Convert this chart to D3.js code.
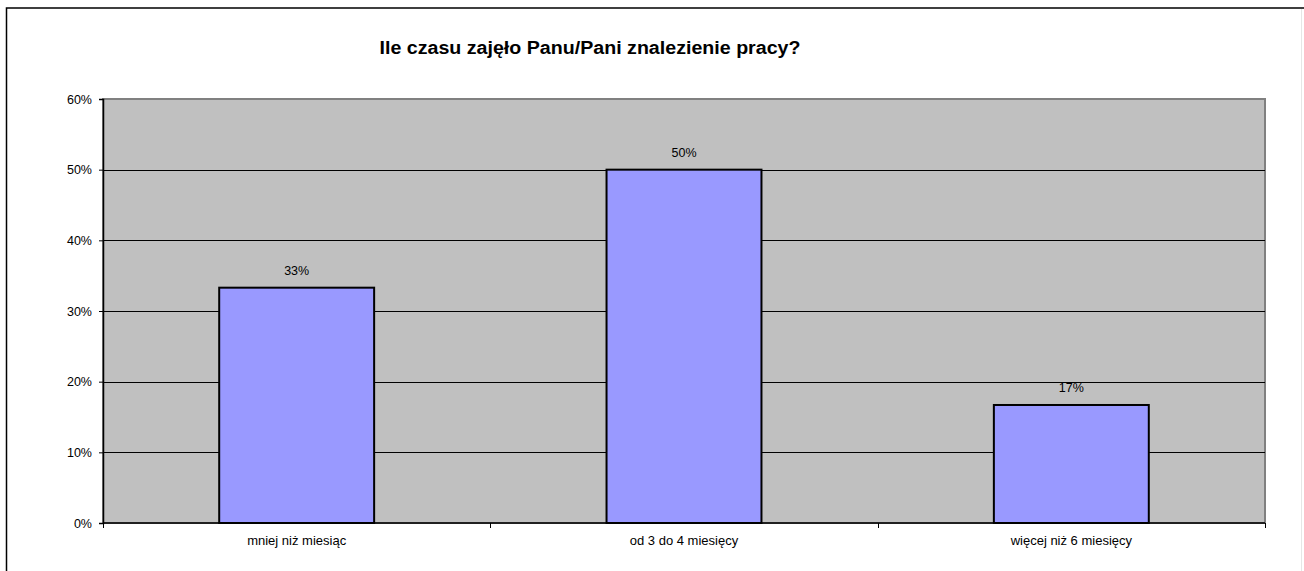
<!DOCTYPE html>
<html><head><meta charset="utf-8">
<script src="https://cdn.jsdelivr.net/npm/d3@7"></script>
<style>body{margin:0;background:#fff}svg{display:block}text{font-family:"Liberation Sans",Arial,sans-serif}</style>
</head><body>
<svg id="c" width="1304" height="571"></svg>
<script>
const title = "Ile czasu zajęło Panu/Pani znalezienie pracy?";
const categories = ["mniej niż miesiąc", "od 3 do 4 miesięcy", "więcej niż 6 miesięcy"];
const values = [0.333, 0.50, 0.167];
const yTicks = [0, 0.1, 0.2, 0.3, 0.4, 0.5, 0.6];

const svg = d3.select("#c");
const W = 1304, H = 571;
const m = {left: 103, top: 99, right: 1265, bottom: 523};

// outer frame
svg.append("rect").attr("x", 6.5).attr("y", 8).attr("width", W + 10).attr("height", H + 10)
  .attr("fill", "#fff").attr("stroke", "#000").attr("stroke-width", 1.5);
svg.append("line").attr("x1", 1301.5).attr("x2", 1301.5).attr("y1", 9).attr("y2", H)
  .attr("stroke", "#e6e6e6").attr("stroke-width", 1);

const x = d3.scaleBand().domain(categories).range([m.left, m.right]).paddingInner(0.6).paddingOuter(0.3);
const y = d3.scaleLinear().domain([0, 0.6]).range([m.bottom, m.top]);

// plot area
svg.append("rect").attr("x", m.left).attr("y", m.top).attr("width", m.right - m.left).attr("height", m.bottom - m.top)
  .attr("fill", "#c0c0c0").attr("stroke", "#808080").attr("stroke-width", 2);

// gridlines
svg.append("g").selectAll("line").data(yTicks.filter(d => d > 0 && d < 0.6)).join("line")
  .attr("x1", m.left).attr("x2", m.right).attr("y1", d => Math.round(y(d)) + 0.5).attr("y2", d => Math.round(y(d)) + 0.5)
  .attr("stroke", "#000").attr("stroke-width", 1);

// bars
svg.append("g").selectAll("rect").data(values).join("rect")
  .attr("x", (d, i) => x(categories[i])).attr("width", x.bandwidth())
  .attr("y", d => y(d)).attr("height", d => y(0) - y(d))
  .attr("fill", "#9999ff").attr("stroke", "#000").attr("stroke-width", 2);

// data labels
svg.append("g").selectAll("text").data(values).join("text")
  .attr("x", (d, i) => x(categories[i]) + x.bandwidth() / 2).attr("y", d => y(d) - 13)
  .attr("text-anchor", "middle").attr("font-size", 12.5).attr("fill", "#000")
  .text(d => d3.format(".0%")(d));

// y axis
const yAxis = d3.axisLeft(y).tickValues(yTicks).tickFormat(d3.format(".0%")).tickSize(4).tickPadding(7);
const gy = svg.append("g").attr("transform", `translate(${m.left},0)`).call(yAxis);
gy.select(".domain").attr("stroke", "#000").attr("stroke-width", 1.5);
gy.selectAll(".tick line").attr("stroke", "#000");
gy.selectAll("text").attr("font-size", 12.5).attr("font-family", '"Liberation Sans",Arial,sans-serif').attr("fill", "#000");

// x axis
const gx = svg.append("g").attr("transform", `translate(0,${m.bottom})`);
gx.append("line").attr("x1", m.left).attr("x2", m.right).attr("y1", 0).attr("y2", 0).attr("stroke", "#000").attr("stroke-width", 1.5);
const bounds = d3.range(categories.length + 1).map(i => m.left + i * (m.right - m.left) / categories.length);
gx.selectAll("line.tk").data(bounds).join("line").attr("class", "tk")
  .attr("x1", d => Math.round(d) + 0.5).attr("x2", d => Math.round(d) + 0.5).attr("y1", 0).attr("y2", 5)
  .attr("stroke", "#000");
gx.selectAll("text").data(categories).join("text")
  .attr("x", d => x(d) + x.bandwidth() / 2).attr("y", 22)
  .attr("text-anchor", "middle").attr("font-size", 13).attr("fill", "#000").text(d => d);

// title
svg.append("text").attr("x", 590).attr("y", 54).attr("text-anchor", "middle")
  .attr("font-size", 18).attr("font-weight", "bold").attr("fill", "#000")
  .attr("textLength", 421).attr("lengthAdjust", "spacingAndGlyphs").text(title);
</script>
</body></html>
